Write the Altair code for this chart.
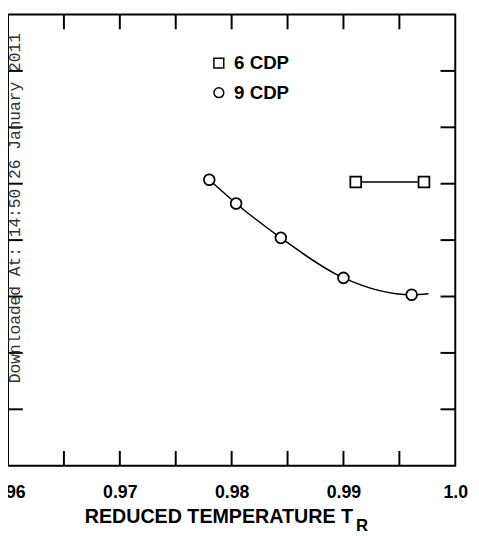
import altair as alt
import pandas as pd

# ---- data ----
series_names = ["6 CDP", "9 CDP"]
sq_x = [0.9911, 0.9972]
sq_y = [5.03, 5.03]
circ_x = [0.9780, 0.9804, 0.9844, 0.9900, 0.9961]
circ_y = [5.07, 4.65, 4.04, 3.33, 3.03]
curve_x = [0.9780, 0.9804, 0.9844, 0.9900, 0.9961, 0.9976]
curve_y = [5.07, 4.65, 4.04, 3.33, 3.03, 3.05]
x_tick_vals = [0.965, 0.97, 0.975, 0.98, 0.985, 0.99, 0.995]
x_label_vals = [0.96, 0.97, 0.98, 0.99, 1.0]
y_tick_vals = [1, 2, 3, 4, 5, 6, 7]
x_title = "REDUCED TEMPERATURE  T"
x_sub = "R"
watermark = "Downloaded At: 14:50 26 January 2011"

W, H = 455, 459
TL = 15
FONT = "Liberation Sans"

pts = pd.DataFrame(
    {"x": sq_x + circ_x,
     "y": sq_y + circ_y,
     "series": [series_names[0]] * len(sq_x) + [series_names[1]] * len(circ_x)}
)
sq_df = pd.DataFrame({"x": sq_x, "y": sq_y})
curve_df = pd.DataFrame({"x": curve_x, "y": curve_y})
xt_df = pd.DataFrame({"x": x_tick_vals})
yt_df = pd.DataFrame({"y": y_tick_vals})
one = pd.DataFrame({"t": [watermark]})
sub_df = pd.DataFrame({"t": [x_sub]})

xs = alt.Scale(domain=[0.96, 1.0], nice=False, zero=False)
ys = alt.Scale(domain=[0, 8], nice=False, zero=False)

xaxis = alt.Axis(
    values=x_label_vals,
    labelExpr="datum.value == 1 ? '1.0' : format(datum.value, '.2f')",
    tickSize=0, domain=False, grid=False,
    labelFont=FONT, labelFontSize=18, labelFontWeight="bold", labelColor="black",
    labelPadding=18, labelFlush=False,
    title=x_title, titleFont=FONT, titleFontSize=20, titleFontWeight="bold",
    titleColor="black", titlePadding=6, titleX=214, titleAlign="center",
)
X = alt.X("x:Q", scale=xs, axis=xaxis)
Y = alt.Y("y:Q", scale=ys, axis=None)

curve = alt.Chart(curve_df).mark_line(
    color="black", strokeWidth=1.5, interpolate="monotone"
).encode(x=X, y=Y)

sq_line = alt.Chart(sq_df).mark_line(color="black", strokeWidth=1.5).encode(x=X, y=Y)

points = alt.Chart(pts).mark_point(
    filled=False, fill="white", fillOpacity=1, stroke="black", strokeWidth=1.8,
    size=121, opacity=1
).encode(
    x=X, y=Y,
    shape=alt.Shape(
        "series:N",
        scale=alt.Scale(domain=series_names, range=["square", "circle"]),
        legend=alt.Legend(
            title=None, orient="none", legendX=205, legendY=40, padding=0,
            symbolSize=100, symbolStrokeWidth=1.5,
            labelFont=FONT, labelFontSize=19, labelFontWeight="bold",
            labelColor="black", labelOffset=6, rowPadding=10,
        ),
    ),
)

xt_top = alt.Chart(xt_df).mark_rule(color="black", strokeWidth=2).encode(
    x=X, y=alt.value(0), y2=alt.value(TL))
xt_bot = alt.Chart(xt_df).mark_rule(color="black", strokeWidth=2).encode(
    x=X, y=alt.value(H - TL), y2=alt.value(H))
yt_left = alt.Chart(yt_df).mark_rule(color="black", strokeWidth=2).encode(
    y=Y, x=alt.value(0), x2=alt.value(TL))
yt_right = alt.Chart(yt_df).mark_rule(color="black", strokeWidth=2).encode(
    y=Y, x=alt.value(W - TL), x2=alt.value(W))

wm = alt.Chart(one).mark_text(
    font="Liberation Mono", fontSize=16.5, angle=270, align="center",
    baseline="middle", color="#333333"
).encode(x=alt.value(7), y=alt.value(197), text="t:N")

sub = alt.Chart(sub_df).mark_text(
    font=FONT, fontSize=17, fontWeight="bold", align="left",
    baseline="middle", color="black"
).encode(x=alt.value(354), y=alt.value(H + 61), text="t:N")

chart = alt.layer(
    xt_top, xt_bot, yt_left, yt_right, curve, sq_line, points, wm, sub
).properties(
    width=W, height=H,
    autosize=alt.AutoSizeParams(type="none"),
    padding={"left": 0, "top": 2, "right": 16, "bottom": 74},
    background="white",
).configure_view(stroke="black", strokeWidth=2)

chart.save("out.html", embed_options={"renderer": "svg", "actions": False})
